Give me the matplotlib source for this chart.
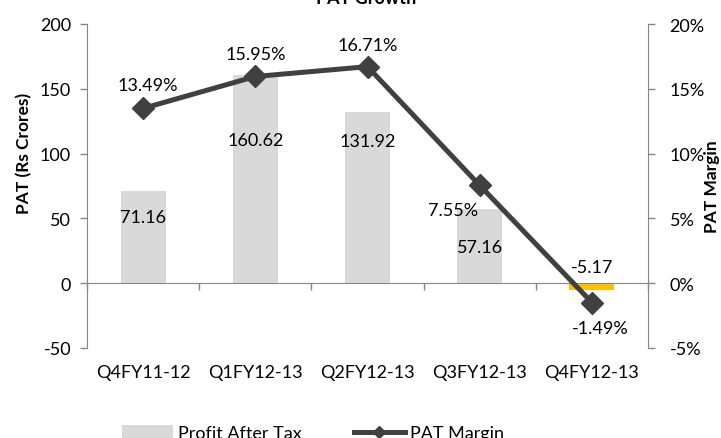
import matplotlib
matplotlib.use("Agg")
import matplotlib.pyplot as plt
import matplotlib.transforms as mtransforms
from matplotlib.lines import Line2D
from matplotlib.patches import Patch
import numpy as np

categories = ["Q4FY11-12", "Q1FY12-13", "Q2FY12-13", "Q3FY12-13", "Q4FY12-13"]
pat = [71.16, 160.62, 131.92, 57.16, -5.17]
margin = [13.49, 15.95, 16.71, 7.55, -1.49]
pat_labels = ["71.16", "160.62", "131.92", "57.16", "-5.17"]
margin_labels = ["13.49%", "15.95%", "16.71%", "7.55%", "-1.49%"]
left_ticks = [-50, 0, 50, 100, 150, 200]
right_ticks = [-5, 0, 5, 10, 15, 20]

# label offsets in pixels (dx, dy; dy positive = up)
bar_label_off = [(0, -26), (0, -65), (0, -29), (0, -38), (0, 23)]
line_label_off = [(5, 23), (0, 22), (0, 22), (-27, -25), (8, -25)]

plt.rcParams['font.family'] = ['Lato', 'DejaVu Sans']
FS = 13

fig = plt.figure(figsize=(7.21, 4.39), dpi=100)
ax = fig.add_axes([87/721, 1-349/439, (648-87)/721, 324/439])
ax2 = ax.twinx()

x = np.arange(len(categories))
bar_colors = ["#D9D9D9" if v >= 0 else "#FFC000" for v in pat]
ax.bar(x, pat, width=0.40, color=bar_colors, zorder=2)
ax.set_xlim(-0.5, len(categories)-0.5)
ax.set_ylim(-50, 200)
ax.set_yticks(left_ticks)
ax.set_yticklabels([str(t) for t in left_ticks], fontsize=FS)

ax2.plot(x, margin, color="#404040", lw=3.6, marker="D", markersize=11, zorder=3)
ax2.set_ylim(-5, 20)
ax2.set_yticks(right_ticks)
ax2.set_yticklabels([f"{t}%" for t in right_ticks], fontsize=FS)

spine_c = "#868686"
for a in (ax, ax2):
    a.spines['top'].set_visible(False)
    for s in ('left', 'right', 'bottom'):
        a.spines[s].set_color(spine_c)
ax.spines['right'].set_visible(False)
ax2.spines['left'].set_visible(False)
ax2.spines['bottom'].set_visible(False)
ax.spines['bottom'].set_position(('data', 0))
ax.tick_params(axis='y', colors=spine_c, labelcolor='black', length=5, width=1, pad=6.5)
ax2.tick_params(axis='y', colors=spine_c, labelcolor='black', length=5, width=1, pad=10.5)
ax.set_xticks(np.arange(-0.5, len(categories)))
ax.tick_params(axis='x', colors=spine_c, length=5, width=1, labelbottom=False)
ax2.tick_params(axis='x', length=0)

tr = mtransforms.blended_transform_factory(ax.transData, ax.transAxes)
for i, c in enumerate(categories):
    ax.text(i, -24/324, c, transform=tr, ha='center', va='center', fontsize=FS)

px2pt = 0.72
for i, (v, lab) in enumerate(zip(pat, pat_labels)):
    dx, dy = bar_label_off[i]
    ax.annotate(lab, (i, v), xytext=(dx*px2pt, dy*px2pt), textcoords='offset points',
                ha='center', va='center', fontsize=FS, zorder=5)
for i, (v, lab) in enumerate(zip(margin, margin_labels)):
    dx, dy = line_label_off[i]
    ax2.annotate(lab, (i, v), xytext=(dx*px2pt, dy*px2pt), textcoords='offset points',
                 ha='center', va='center', fontsize=FS, zorder=5)

fig.text(366/721, 1-4/439, "PAT Growth", ha='center', va='baseline',
         fontsize=FS, fontweight='bold')
fig.text(24.5/721, 1-153/439, "PAT (Rs Crores)", rotation=90, ha='center', va='center',
         fontsize=12.5, fontweight='bold')
fig.text(712/721, 1-187/439, "PAT Margin", rotation=90, ha='center', va='center',
         fontsize=12.5, fontweight='bold')

handles = [Patch(facecolor="#D9D9D9", edgecolor='none'),
           Line2D([0], [0], color="#404040", lw=3.6, marker="D", markersize=6)]
fig.legend(handles, ["Profit After Tax", "PAT Margin"], loc='center',
           bbox_to_anchor=(313/721, 1-434/439), ncol=2, frameon=False, fontsize=FS,
           handlelength=2.8, handletextpad=0.3, columnspacing=2.9,
           borderpad=0, borderaxespad=0)

fig.savefig("out.png", dpi=100)
